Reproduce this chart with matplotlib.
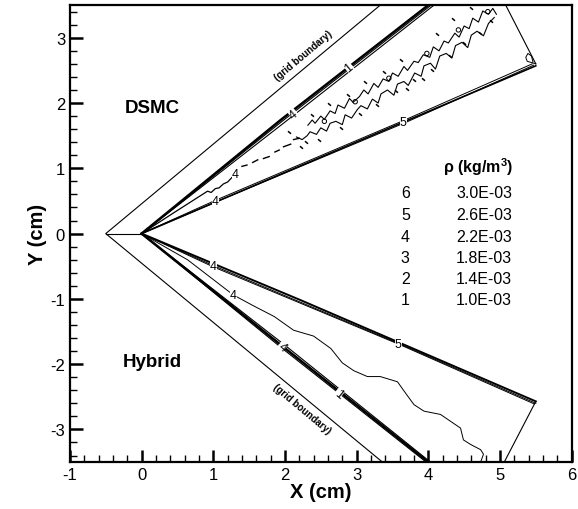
import numpy as np
import matplotlib.pyplot as plt

plt.rcParams['font.family'] = ['Liberation Sans', 'DejaVu Sans']
plt.rcParams['axes.unicode_minus'] = False

# grid boundary and outflow edges
grid_x = [3.33, -0.5, 3.36]
grid_y = [3.5, 0.0, -3.5]
tip_x = [-0.5, 0.0]
tip_y = [0.0, 0.0]
out_up_x = [5.08, 5.5]
out_up_y = [3.5, 2.6]
out_lo_x = [5.5, 5.06]
out_lo_y = [-2.57, -3.5]
curl_x = [5.5, 5.44, 5.38, 5.36, 5.39, 5.44, 5.46]
curl_y = [2.6, 2.62, 2.64, 2.7, 2.76, 2.72, 2.63]

# shock bundles (DSMC top, Hybrid bottom)
shock_up_x = [[0, 1.94, 4.00], [0, 1.96, 4.04], [0, 1.99, 4.08]]
shock_up_y = [[0, 1.74, 3.5], [0, 1.72, 3.5], [0, 1.70, 3.5]]
shock_lo_x = [[0, 1.94, 3.97], [0, 1.97, 4.00], [0, 2.0, 4.03]]
shock_lo_y = [[0, -1.74, -3.5], [0, -1.73, -3.5], [0, -1.71, -3.5]]

# near-wall bands
wall_up_x = [[0, 2.22, 5.5], [0, 1.03, 3.65, 5.45], [0, 1.05, 3.7, 5.47]]
wall_up_y = [[0, 1.04, 2.57], [0, 0.51, 1.73, 2.6], [0, 0.49, 1.71, 2.58]]
wall_lo_x = [[0, 2.22, 5.5], [0, 1.0, 3.58, 5.5], [0, 1.0, 3.6, 5.48]]
wall_lo_y = [[0, -1.02, -2.57], [0, -0.49, -1.68, -2.6], [0, -0.51, -1.70, -2.61]]

# hybrid level-4 contour (wavy)
wavy_x = [0, 0.64, 1.28, 1.55, 1.85, 2.12, 2.4, 2.64, 2.8, 2.96, 3.15, 3.33,
          3.57, 3.7, 3.8, 3.94, 4.17, 4.45, 4.49, 4.59, 4.73, 4.77, 4.73]
wavy_y = [0, -0.40, -0.94, -1.1, -1.27, -1.48, -1.57, -1.76, -1.98, -2.1, -2.19, -2.19,
          -2.27, -2.47, -2.62, -2.72, -2.77, -2.98, -3.16, -3.23, -3.31, -3.38, -3.5]

# DSMC level-4 contour (noisy)
dsmc_a_x = [0, 0.45, 0.92, 0.97, 1.03, 1.08, 1.14, 1.2, 1.26]
dsmc_a_y = [0, 0.32, 0.65, 0.63, 0.69, 0.70, 0.76, 0.79, 0.86]
dash_x = [[1.40, 1.47], [1.55, 1.62], [1.70, 1.78], [1.86, 1.92], [1.98, 2.08], [2.12, 2.20]]
dash_y = [[1.03, 1.05], [1.09, 1.13], [1.15, 1.18], [1.25, 1.28], [1.33, 1.37], [1.44, 1.46]]
dsmc_lo_x = [2.16, 2.24, 2.31, 2.35, 2.44, 2.50, 2.58, 2.63, 2.71, 2.80, 2.84, 2.93,
             3.01, 3.06, 3.15, 3.22, 3.30, 3.34, 3.43, 3.52, 3.57, 3.66, 3.72, 3.81, 3.90,
             3.94, 4.03, 4.10, 4.16, 4.25, 4.33, 4.38, 4.47, 4.55, 4.60, 4.68, 4.77, 4.84,
             4.92]
dsmc_lo_y = [1.48, 1.44, 1.50, 1.56, 1.52, 1.62, 1.57, 1.69, 1.72, 1.67, 1.82, 1.77,
             1.90, 1.96, 1.91, 2.06, 2.00, 2.14, 2.20, 2.12, 2.29, 2.33, 2.27, 2.46, 2.41,
             2.57, 2.61, 2.52, 2.72, 2.76, 2.69, 2.88, 2.93, 2.85, 3.04, 3.10, 3.03, 3.22,
             3.31]
dsmc_hi_x = [2.32, 2.38, 2.42, 2.50, 2.55, 2.63, 2.70, 2.74, 2.83, 2.90, 2.95, 3.04,
             3.10, 3.16, 3.24, 3.30, 3.37, 3.45, 3.50, 3.58, 3.66, 3.71, 3.80, 3.86, 3.93,
             4.02, 4.07, 4.15, 4.22, 4.28, 4.37, 4.43, 4.50, 4.57, 4.62, 4.70, 4.76, 4.84,
             4.90, 4.95]
dsmc_hi_y = [1.66, 1.74, 1.69, 1.80, 1.75, 1.88, 1.84, 1.97, 1.92, 2.07, 2.01, 2.10,
             2.20, 2.14, 2.30, 2.24, 2.37, 2.33, 2.46, 2.41, 2.56, 2.50, 2.64, 2.62, 2.74,
             2.70, 2.86, 2.80, 2.95, 2.92, 3.07, 3.01, 3.18, 3.14, 3.30, 3.24, 3.41, 3.36,
             3.45, 3.36]
frag_x = [2.05, 2.22, 2.38, 2.48, 2.62, 2.78, 2.88, 3.05, 3.12, 3.28, 3.38, 3.55,
          3.62, 3.70, 3.80, 3.93, 4.05, 4.12, 4.30, 4.35, 4.50, 4.60, 4.72, 4.88, 2.30]
frag_y = [1.55, 1.33, 1.82, 1.43, 1.98, 1.62, 2.12, 1.83, 2.32, 1.97, 2.48, 2.18,
          2.66, 2.21, 2.35, 2.37, 2.50, 3.06, 2.72, 3.28, 2.92, 3.45, 3.08, 3.25, 1.40]
loop_x = [2.55, 2.98, 3.45, 3.98, 4.42, 4.83]
loop_y = [1.72, 2.02, 2.38, 2.76, 3.12, 3.40]

# contour labels: text, x, y
clab_text = ['4', '1', '4', '5', '4', '4', '1', '4', '5', '4']
clab_x = [2.12, 2.89, 1.03, 3.65, 1.31, 1.96, 2.75, 1.0, 3.58, 1.28]
clab_y = [1.83, 2.55, 0.50, 1.71, 0.92, -1.73, -2.45, -0.50, -1.69, -0.94]
clab_rot = [40, 40, 0, 0, 0, -40, -40, 0, 0, 0]

# legend table
lev_ids = ['6', '5', '4', '3', '2', '1']
lev_vals = ['3.0E-03', '2.6E-03', '2.2E-03', '1.8E-03', '1.4E-03', '1.0E-03']

fig = plt.figure(figsize=(5.78, 5.10), dpi=100)
ax = fig.add_axes([0.121, 0.092, 0.868, 0.896])

k = 'black'
ax.plot(grid_x, grid_y, color=k, lw=0.8)
ax.plot(tip_x, tip_y, color=k, lw=0.8)
ax.plot(out_up_x, out_up_y, color=k, lw=0.8)
ax.plot(out_lo_x, out_lo_y, color=k, lw=0.8)
ax.plot(curl_x, curl_y, color=k, lw=0.7)

for xs, ys, lw in zip(shock_up_x, shock_up_y, [1.8, 0.8, 0.8]):
    ax.plot(xs, ys, color=k, lw=lw)
for xs, ys, lw in zip(shock_lo_x, shock_lo_y, [0.8, 1.8, 0.8]):
    ax.plot(xs, ys, color=k, lw=lw)
for xs, ys, lw in zip(wall_up_x, wall_up_y, [1.2, 0.7, 0.7]):
    ax.plot(xs, ys, color=k, lw=lw)
for xs, ys, lw in zip(wall_lo_x, wall_lo_y, [1.4, 0.7, 0.7]):
    ax.plot(xs, ys, color=k, lw=lw)

ax.plot(wavy_x, wavy_y, color=k, lw=0.7)
ax.plot(dsmc_a_x, dsmc_a_y, color=k, lw=0.9)
for xs, ys in zip(dash_x, dash_y):
    ax.plot(xs, ys, color=k, lw=1.0)
ax.plot(dsmc_lo_x, dsmc_lo_y, color=k, lw=0.8)
ax.plot(dsmc_hi_x, dsmc_hi_y, color=k, lw=0.8)
ax.scatter(frag_x, frag_y, s=8, marker=(2, 0, 50), color=k, linewidths=1.1)
ax.scatter(loop_x, loop_y, s=10, marker='o', facecolors='none', edgecolors=k, linewidths=0.7)

for t, x, y, r in zip(clab_text, clab_x, clab_y, clab_rot):
    ax.text(x, y, t, fontsize=9, ha='center', va='center', rotation=r,
            bbox=dict(boxstyle='square,pad=0.02', fc='white', ec='none'))

ax.text(2.26, 2.73, '(grid boundary)', fontsize=7, fontweight='bold',
        rotation=40, ha='center', va='center')
ax.text(2.24, -2.67, '(grid boundary)', fontsize=7, fontweight='bold',
        rotation=-40, ha='center', va='center')

ax.text(0.15, 1.93, 'DSMC', fontsize=13.5, fontweight='bold', ha='center', va='center')
ax.text(0.15, -1.96, 'Hybrid', fontsize=13.5, fontweight='bold', ha='center', va='center')

ax.text(4.69, 1.04, r'$\mathregular{\rho}$ (kg/m$\mathregular{^3}$)', fontsize=11.5,
        fontweight='bold', ha='center', va='center')
row_y = [0.63, 0.29, -0.05, -0.37, -0.69, -1.01]
for i, (lid, val) in enumerate(zip(lev_ids, lev_vals)):
    ax.text(3.68, row_y[i], lid, fontsize=11.5, ha='center', va='center')
    ax.text(5.17, row_y[i], val, fontsize=11.5, ha='right', va='center')

ax.set_xlim(-1, 6)
ax.set_ylim(-3.5, 3.5)
ax.set_xticks(range(-1, 7))
ax.set_yticks(range(-3, 4))
ax.set_xticks(np.arange(-1, 6.01, 0.2), minor=True)
ax.set_yticks(np.arange(-3.4, 3.41, 0.2), minor=True)
ax.tick_params(which='both', direction='in', top=False, right=False, labelsize=12)
ax.tick_params(which='major', length=9, width=1.8)
ax.tick_params(which='minor', length=5, width=1.0)
for s in ax.spines.values():
    s.set_linewidth(1.6)

ax.set_xlabel('X (cm)', fontsize=14.5, fontweight='bold', labelpad=0)
ax.set_ylabel('Y (cm)', fontsize=14.5, fontweight='bold', labelpad=2)

fig.savefig('out.png', dpi=100)
